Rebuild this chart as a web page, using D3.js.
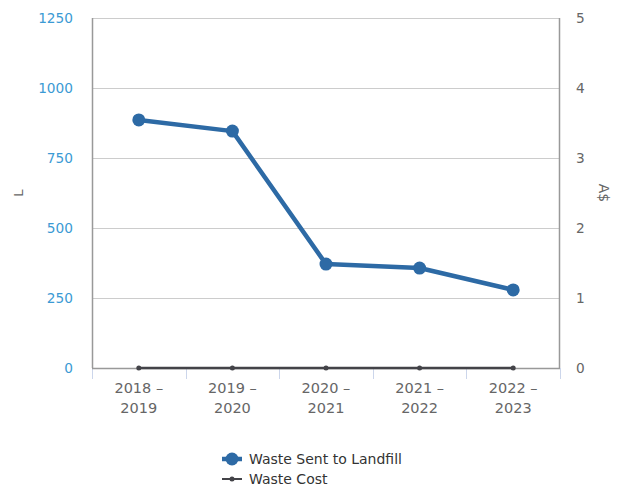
<!DOCTYPE html>
<html>
<head>
<meta charset="utf-8">
<script src="https://cdn.jsdelivr.net/npm/d3@7"></script>
<style>
  body { margin: 0; background: #fff; }
  svg text { font-family: "DejaVu Sans", sans-serif; }
</style>
</head>
<body>
<div id="vis"></div>
<script>
var width = 629, height = 490;
var margin = { top: 18, right: 69, bottom: 122, left: 92 };

// data
var years = ["2018 – 2019", "2019 – 2020", "2020 – 2021", "2021 – 2022", "2022 – 2023"];
var landfill = [886, 846, 371, 357, 279];
var wasteCost = [0, 0, 0, 0, 0];
var leftTicks = [0, 250, 500, 750, 1000, 1250];
var rightTicks = [0, 1, 2, 3, 4, 5];

var blue = "#2d6aa5";
var dark = "#434348";

var svg = d3.select("#vis").append("svg")
  .attr("width", width)
  .attr("height", height);

var x = d3.scaleBand()
  .domain(years)
  .range([margin.left, width - margin.right]);

var y = d3.scaleLinear()
  .domain([0, 1250])
  .range([height - margin.bottom, margin.top]);

var y2 = d3.scaleLinear()
  .domain([0, 5])
  .range([height - margin.bottom, margin.top]);

// gridlines
svg.append("g")
  .selectAll("line")
  .data(leftTicks)
  .enter()
  .append("line")
  .attr("x1", margin.left)
  .attr("x2", width - margin.right)
  .attr("y1", d => Math.round(y(d)) + 0.5)
  .attr("y2", d => Math.round(y(d)) + 0.5)
  .style("stroke", "#cccccc")
  .style("stroke-width", 1);

// x axis ticks (band boundaries)
var bounds = years.map(d => x(d)).concat([x.range()[1]]);
svg.append("g")
  .selectAll("line")
  .data(bounds)
  .enter()
  .append("line")
  .attr("x1", d => Math.round(d) + 0.5)
  .attr("x2", d => Math.round(d) + 0.5)
  .attr("y1", y(0))
  .attr("y2", y(0) + 11)
  .style("stroke", "#ccd6eb");

// axis lines
svg.append("line")
  .attr("x1", margin.left + 0.5).attr("x2", margin.left + 0.5)
  .attr("y1", margin.top).attr("y2", y(0))
  .style("stroke", "#999").style("stroke-width", 1.5);
svg.append("line")
  .attr("x1", width - margin.right - 0.5).attr("x2", width - margin.right - 0.5)
  .attr("y1", margin.top).attr("y2", y(0))
  .style("stroke", "#999").style("stroke-width", 1.5);
svg.append("line")
  .attr("x1", margin.left).attr("x2", width - margin.right)
  .attr("y1", y(0) + 0.5).attr("y2", y(0) + 0.5)
  .style("stroke", "#999").style("stroke-width", 1.5);

// left tick labels
svg.append("g")
  .selectAll("text")
  .data(leftTicks)
  .enter()
  .append("text")
  .attr("x", margin.left - 19)
  .attr("y", d => y(d) + 5)
  .attr("text-anchor", "end")
  .style("font-size", "13.7px")
  .style("fill", "#3b9ad4")
  .text(d => d);

// right tick labels
svg.append("g")
  .selectAll("text")
  .data(rightTicks)
  .enter()
  .append("text")
  .attr("x", width - margin.right + 16)
  .attr("y", d => y2(d) + 5)
  .attr("text-anchor", "start")
  .style("font-size", "13.7px")
  .style("fill", "#666666")
  .text(d => d);

// axis titles
svg.append("text")
  .attr("transform", "translate(23," + ((margin.top + y(0)) / 2) + ") rotate(-90)")
  .attr("text-anchor", "middle")
  .style("font-size", "13px")
  .style("fill", "#666666")
  .text("L");
svg.append("text")
  .attr("transform", "translate(599," + ((margin.top + y(0)) / 2) + ") rotate(90)")
  .attr("text-anchor", "middle")
  .style("font-size", "14px")
  .style("fill", "#666666")
  .text("A$");

// x labels, two lines
var xl = svg.append("g")
  .selectAll("text")
  .data(years)
  .enter()
  .append("text")
  .attr("x", d => x(d) + x.bandwidth() / 2)
  .attr("y", y(0) + 25)
  .attr("text-anchor", "middle")
  .style("font-size", "14.5px")
  .style("fill", "#666666");
xl.append("tspan")
  .attr("x", d => x(d) + x.bandwidth() / 2)
  .text(d => d.split(" – ")[0] + " –");
xl.append("tspan")
  .attr("x", d => x(d) + x.bandwidth() / 2)
  .attr("dy", 20)
  .text(d => d.split(" – ")[1]);

// waste cost line
var costLine = d3.line()
  .x((d, i) => x(years[i]) + x.bandwidth() / 2)
  .y(d => y2(d));
svg.append("path")
  .datum(wasteCost)
  .attr("d", costLine)
  .style("fill", "none")
  .style("stroke", dark)
  .style("stroke-width", 2.5);
svg.append("g")
  .selectAll("circle")
  .data(wasteCost)
  .enter()
  .append("circle")
  .attr("cx", (d, i) => x(years[i]) + x.bandwidth() / 2)
  .attr("cy", d => y2(d))
  .attr("r", 2.5)
  .style("fill", dark);

// landfill line
var landLine = d3.line()
  .x((d, i) => x(years[i]) + x.bandwidth() / 2)
  .y(d => y(d));
svg.append("path")
  .datum(landfill)
  .attr("d", landLine)
  .style("fill", "none")
  .style("stroke", blue)
  .style("stroke-width", 4.5)
  .style("stroke-linejoin", "round");
svg.append("g")
  .selectAll("circle")
  .data(landfill)
  .enter()
  .append("circle")
  .attr("cx", (d, i) => x(years[i]) + x.bandwidth() / 2)
  .attr("cy", d => y(d))
  .attr("r", 6.5)
  .style("fill", blue);

// legend
var legend = svg.append("g");
legend.append("line")
  .attr("x1", 222).attr("x2", 242)
  .attr("y1", 459).attr("y2", 459)
  .style("stroke", blue).style("stroke-width", 4.5);
legend.append("circle")
  .attr("cx", 232).attr("cy", 459).attr("r", 6.5)
  .style("fill", blue);
legend.append("text")
  .attr("x", 249).attr("y", 464)
  .style("font-size", "14px")
  .style("fill", "#333333")
  .text("Waste Sent to Landfill");

legend.append("line")
  .attr("x1", 222).attr("x2", 242)
  .attr("y1", 479).attr("y2", 479)
  .style("stroke", dark).style("stroke-width", 2);
legend.append("circle")
  .attr("cx", 232).attr("cy", 479).attr("r", 2.5)
  .style("fill", dark);
legend.append("text")
  .attr("x", 249).attr("y", 484)
  .style("font-size", "14px")
  .style("fill", "#333333")
  .text("Waste Cost");
</script>
</body>
</html>
